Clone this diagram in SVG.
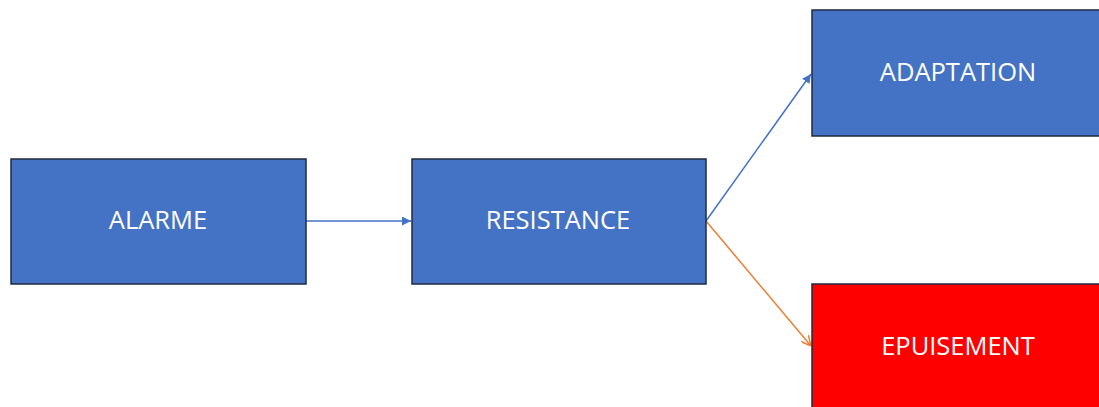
<svg xmlns="http://www.w3.org/2000/svg" width="1099" height="407" viewBox="0 0 1099 407">
<style>
.box{fill:#4472C4;stroke:#1F2A40;stroke-width:1.5}
.red{fill:#FF0000;stroke:#1F2A40;stroke-width:1.5}
.lbl{font-family:"Open Sans","Liberation Sans",sans-serif;font-size:25.5px;fill:#FFFFFF;text-anchor:middle;dominant-baseline:central}
.cb{stroke:#4472C4;stroke-width:1.5;fill:none}
.co{stroke:#ED7D31;stroke-width:1.5;fill:none}
</style>
<defs>
<marker id="ab" viewBox="0 0 10 10" refX="10" refY="5" markerWidth="9" markerHeight="9" markerUnits="userSpaceOnUse" orient="auto"><path d="M0,0 L10,5 L0,10 z" fill="#4472C4"/></marker>
<marker id="ao" viewBox="0 0 10 10" refX="10" refY="5" markerWidth="10" markerHeight="10" markerUnits="userSpaceOnUse" orient="auto"><path d="M0,0 L10,5 L0,10" fill="none" stroke="#ED7D31" stroke-width="1.5"/></marker>
</defs>
<rect width="1099" height="407" fill="#FFFFFF"/>
<g id="connectors">
<line class="cb" x1="306" y1="221" x2="411" y2="221" marker-end="url(#ab)"/>
<line class="cb" x1="706" y1="221" x2="811" y2="74" marker-end="url(#ab)"/>
<line class="co" x1="706" y1="221" x2="811" y2="346" marker-end="url(#ao)"/>
</g>
<g id="alarme"><rect class="box" x="11" y="159" width="295" height="125"/><text class="lbl" x="158" y="219">ALARME</text></g>
<g id="resistance"><rect class="box" x="412" y="159" width="294" height="125"/><text class="lbl" x="558" y="219">RESISTANCE</text></g>
<g id="adaptation"><rect class="box" x="812" y="10" width="295" height="126"/><text class="lbl" x="958" y="71">ADAPTATION</text></g>
<g id="epuisement"><rect class="red" x="812" y="284" width="295" height="126"/><text class="lbl" x="958" y="345">EPUISEMENT</text></g>
</svg>
